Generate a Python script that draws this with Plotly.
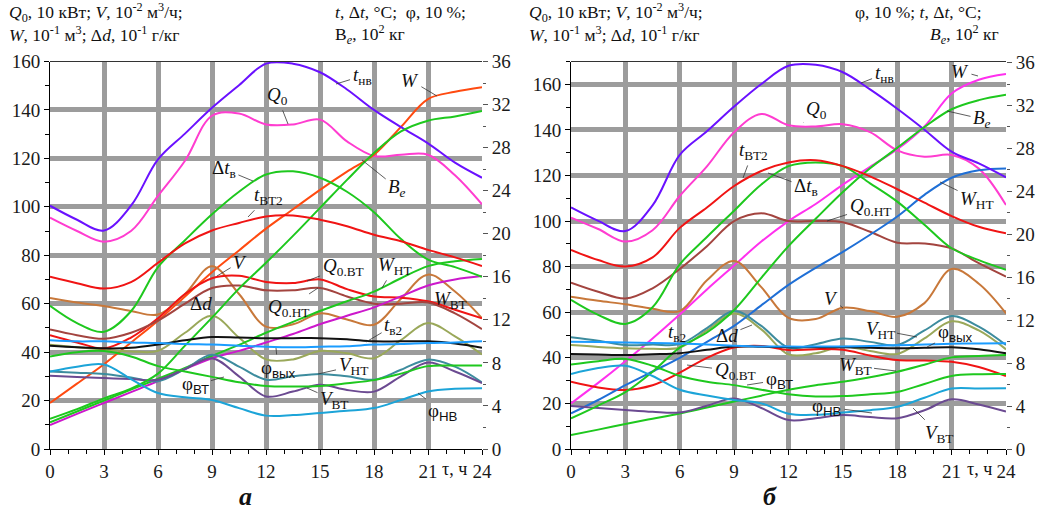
import plotly.graph_objects as go

W_PX, H_PX = 1046, 513
hours = [0, 1.5, 3, 4.5, 6, 7.5, 9, 10.5, 12, 13.5, 15, 16.5, 18, 19.5, 21, 22.5, 24]
x_ticks = [0, 3, 6, 9, 12, 15, 18, 21, 24]
left_ticks = [0, 20, 40, 60, 80, 100, 120, 140, 160]
right_ticks = [0, 4, 8, 12, 16, 20, 24, 28, 32, 36]

# ---------- panel a ----------
a_t_nv = [22.6, 21.3, 20.3, 22.6, 26.9, 29.3, 31.7, 33.8, 35.8, 35.8, 35.0, 33.4, 31.5, 29.9, 28.4, 26.6, 25.2]
a_Q0 = [95.5, 90, 85.6, 90, 104.5, 119, 137.6, 138.5, 134, 134, 136, 127, 121, 121.5, 121.5, 113, 101]
a_W = [19, 27, 35, 44, 53, 63, 73, 82, 91, 99, 107, 114.5, 121.5, 133, 144.5, 147.5, 149.4]
a_Be = [2.8, 3.7, 4.7, 5.6, 7.0, 9.6, 12.2, 14.9, 17.3, 19.8, 22.4, 25.0, 27.5, 29.5, 30.5, 30.9, 31.4]
a_dt_v = [13.3, 11.7, 10.9, 12.8, 16.9, 19.4, 21.8, 23.9, 25.5, 25.8, 25.2, 23.9, 22.0, 19.5, 17.6, 16.9, 16.0]
a_t_vt2 = [16.0, 15.4, 14.9, 15.5, 17.3, 19.1, 20.3, 21.0, 21.6, 21.7, 21.3, 20.7, 19.9, 19.3, 18.5, 17.8, 17.0]
a_V = [62.4, 60.5, 59, 57, 55.5, 64, 75.5, 64, 50.5, 51.5, 56, 53.5, 51.3, 62, 72, 65, 54]
a_dd = [43, 42, 41, 40.3, 40.5, 48, 55, 46, 37, 37, 40.5, 39.5, 37.5, 45, 52, 46.5, 39]
a_Q0_vt = [47, 44, 41.5, 46, 54, 64, 70.5, 71.5, 69, 68.5, 70, 66, 63, 62.5, 61, 57.5, 54]
a_Q0_nt = [49.3, 47, 45.5, 48, 53, 60, 66.5, 67.5, 65.5, 65.5, 66.5, 63, 60, 60, 60.5, 56, 49.5]
a_W_nt = [11, 15.5, 20, 24.5, 29, 33.5, 38.5, 43, 48, 52.5, 57, 61, 65, 70.5, 75.5, 77.5, 78.5]
a_W_vt = [9.9, 14.5, 19, 23.5, 28, 33, 37.5, 40.5, 44, 47.5, 51.5, 55, 58.5, 63, 67.5, 70, 71.4]
a_t_v2 = [9.6, 9.45, 9.35, 9.4, 9.7, 10.1, 10.4, 10.35, 10.3, 10.3, 10.3, 10.2, 10.0, 10.0, 10.0, 9.8, 9.4]
a_phi_out = [10.1, 10.0, 10.0, 9.9, 9.85, 9.75, 9.7, 9.6, 9.5, 9.45, 9.5, 9.55, 9.7, 9.75, 9.85, 9.9, 10.0]
a_phi_vt = [8.6, 9.0, 9.1, 8.6, 7.7, 7.2, 6.7, 6.2, 5.85, 5.8, 5.85, 6.1, 6.4, 7.0, 7.7, 7.75, 7.75]
a_V_nt = [32, 31.5, 31, 29.5, 28, 33, 38.9, 34, 28.6, 30, 31, 30, 28.6, 32.7, 36.9, 34, 27.5]
a_V_vt = [30.2, 29.7, 29.3, 28.9, 28.6, 33, 37.5, 30, 21.7, 23.7, 26.5, 24.4, 23.7, 30, 35.7, 32, 27.2]
a_phi_nv = [7.2, 7.65, 7.85, 6.5, 5.2, 4.8, 4.55, 3.8, 3.1, 3.15, 3.35, 3.55, 3.8, 4.55, 5.35, 5.6, 5.65]

# ---------- panel b ----------
b_t_nv = [22.5, 21.25, 20.3, 22.7, 27.4, 29.6, 31.9, 34.0, 35.7, 35.8, 35.1, 33.5, 31.7, 29.75, 27.7, 26.6, 25.3]
b_Q0 = [101.5, 96.5, 91, 96, 111, 124, 139, 147, 142, 141.5, 142.5, 139, 131, 128.2, 129, 123, 107]
b_W = [20, 29, 38.5, 48.5, 59, 70, 80.5, 91, 100, 107.5, 116, 123.8, 131.5, 141.5, 156, 162, 164.5]
b_Be = [2.85, 4.05, 5.3, 7.2, 9.45, 10.85, 12.95, 15.95, 18.9, 21.45, 23.95, 26.15, 28.05, 30.0, 31.65, 32.5, 33.0]
b_dt_v = [13.9, 12.5, 11.65, 13.2, 17.2, 19.75, 22.2, 24.65, 26.35, 26.7, 26.35, 24.75, 23.05, 20.9, 18.7, 17.6, 16.7]
b_t_vt2 = [18.55, 17.6, 17.0, 17.85, 20.6, 22.5, 24.5, 25.9, 26.7, 26.9, 26.35, 25.4, 24.2, 22.95, 21.7, 20.7, 20.1]
b_Q0_nt = [73, 69, 66, 70.5, 79, 89, 100, 103.4, 100, 100, 99.5, 95.3, 90.5, 90.2, 88, 81.5, 75.6]
b_W_nt = [15.6, 21.5, 28, 34, 40, 47, 54, 63, 72, 79.5, 86.5, 94, 102, 111.5, 119, 122.3, 123.1]
b_V = [66.8, 65, 63.5, 61.5, 60.5, 74, 82.5, 71, 57.5, 57, 62, 60.5, 58, 64, 79, 72.5, 59.5]
b_dd = [45.6, 44.8, 44.2, 44, 44.5, 52, 59.5, 52.5, 41.5, 42, 45, 43, 41.7, 48.5, 56, 52, 43.7]
b_V_nt = [49, 47.5, 45.6, 45.8, 46, 53, 60.5, 54, 44.5, 46, 48.5, 47, 45.6, 52, 58.3, 53.7, 45.6]
b_phi_out = [10.0, 9.97, 9.92, 9.88, 9.82, 9.73, 9.63, 9.56, 9.54, 9.54, 9.56, 9.6, 9.67, 9.73, 9.8, 9.84, 9.86]
b_t_v2 = [8.86, 8.8, 8.75, 8.82, 8.92, 9.24, 9.54, 9.52, 9.48, 9.48, 9.48, 9.43, 9.39, 9.43, 9.48, 9.3, 8.92]
b_Q0_vt = [29.5, 27, 25.9, 28, 33.5, 40, 44.5, 45.2, 43.4, 43.8, 43.5, 41, 39, 38.8, 38.3, 36, 32]
b_W_vt = [6.1, 8.5, 11, 13.3, 15.6, 18.2, 20.8, 23.4, 26, 28, 29.5, 31.5, 33.9, 37, 40.2, 40.8, 41.2]
b_phi_vt = [7.86, 8.18, 8.39, 7.76, 6.8, 6.27, 5.95, 5.52, 5.1, 4.89, 4.93, 5.1, 5.31, 6.06, 6.8, 6.97, 6.99]
b_phi_nv = [6.99, 7.54, 7.76, 6.8, 5.52, 4.99, 4.57, 4.25, 3.29, 3.19, 3.4, 3.61, 3.93, 4.78, 5.63, 5.63, 5.65]
b_V_vt = [18.9, 18, 17.1, 16.3, 16, 19, 22.2, 18, 12.7, 13.5, 14.9, 14, 13.5, 17, 21.8, 19.5, 16.4]

# colours
VIOLET = '#6a11ff'; PINK = '#ff3dd0'; ORANGE = '#ff4a10'; GREEN = '#1ec81e'
RED = '#f01414'; BROWN_OR = '#c8783a'; OLIVE = '#9aa85a'; BROWN = '#a3443f'
MAGENTA = '#cc18cc'; BLACK = '#111111'; LBLUE = '#1a9cff'; TEAL = '#3d8c9e'
PURPLE = '#6b4a91'; CYAN = '#1ca4d8'; BMAG = '#ff30ee'; BLUE = '#1f6fd6'

fig = go.Figure()

def add(y, color, xa, ya, width=2.0):
    fig.add_trace(go.Scatter(x=hours, y=y, mode='lines',
                             line=dict(color=color, width=width, shape='spline', smoothing=1.0),
                             xaxis=xa, yaxis=ya, showlegend=False, hoverinfo='skip'))

for s, c in [(a_Q0, PINK), (a_W, ORANGE), (a_V, BROWN_OR), (a_dd, OLIVE), (a_Q0_vt, RED),
             (a_Q0_nt, BROWN), (a_W_nt, GREEN), (a_W_vt, MAGENTA), (a_V_nt, TEAL), (a_V_vt, PURPLE)]:
    add(s, c, 'x', 'y')
for s, c in [(a_t_nv, VIOLET), (a_Be, GREEN), (a_dt_v, GREEN), (a_t_vt2, RED), (a_t_v2, BLACK),
             (a_phi_out, LBLUE), (a_phi_vt, GREEN), (a_phi_nv, CYAN)]:
    add(s, c, 'x', 'y2')
for s, c in [(b_Q0, PINK), (b_W, BMAG), (b_V, BROWN_OR), (b_dd, OLIVE), (b_Q0_vt, RED),
             (b_Q0_nt, BROWN), (b_W_nt, BLUE), (b_W_vt, GREEN), (b_V_nt, TEAL), (b_V_vt, PURPLE)]:
    add(s, c, 'x2', 'y3')
for s, c in [(b_t_nv, VIOLET), (b_Be, GREEN), (b_dt_v, GREEN), (b_t_vt2, RED), (b_t_v2, BLACK),
             (b_phi_out, LBLUE), (b_phi_vt, GREEN), (b_phi_nv, CYAN)]:
    add(s, c, 'x2', 'y4')

FONT = 'Liberation Serif, Times New Roman, Times, serif'
TICKF = dict(family=FONT, size=19, color='#1a1a1a')
GRID = '#9c9c9c'
ydom = [(H_PX - 449) / H_PX, (H_PX - 61.5) / H_PX]

def xax(dom, anchor):
    return dict(domain=dom, anchor=anchor, range=[0, 24], tickvals=x_ticks, automargin=False,
                showgrid=True, gridcolor=GRID, gridwidth=5, zeroline=False,
                showline=True, linecolor='black', linewidth=1,
                ticks='outside', ticklen=5, tickcolor='black',
                minor=dict(dtick=1, ticks='outside', ticklen=4, tickcolor='black', showgrid=False),
                tickfont=TICKF, fixedrange=True)

def ylax(rng, anchor):
    return dict(domain=ydom, anchor=anchor, range=rng, tickvals=left_ticks, automargin=False,
                showgrid=True, gridcolor=GRID, gridwidth=5, zeroline=False,
                showline=True, linecolor='black', linewidth=1,
                ticks='outside', ticklen=5, tickcolor='black',
                minor=dict(dtick=10, ticks='outside', ticklen=4, tickcolor='black', showgrid=False),
                tickfont=TICKF, fixedrange=True)

def yrax(rng, over, anchor):
    return dict(overlaying=over, side='right', anchor=anchor, range=rng, tickvals=right_ticks,
                automargin=False, showgrid=False, zeroline=False, showline=False,
                ticks='outside', ticklen=5, tickcolor='#555',
                minor=dict(dtick=2, ticks='outside', ticklen=3, tickcolor='#555'),
                tickfont=TICKF, fixedrange=True)

fig.update_layout(
    width=W_PX, height=H_PX, autosize=False, margin=dict(l=0, r=0, t=0, b=0, pad=0, autoexpand=False),
    paper_bgcolor='white', plot_bgcolor='white', showlegend=False,
    xaxis=xax([50 / W_PX, 482 / W_PX], 'y'),
    yaxis=ylax([0, 160], 'x'),
    yaxis2=yrax([0, 36], 'y', 'x'),
    xaxis2=xax([571 / W_PX, 1006 / W_PX], 'y3'),
    yaxis3=ylax([0, 170], 'x2'),
    yaxis4=yrax([0, 36.1], 'y3', 'x2'),
)

for xr, yr in (('x domain', 'y domain'), ('x2 domain', 'y3 domain')):
    fig.add_shape(type='line', xref=xr, yref=yr, x0=0, x1=1, y0=1, y1=1,
                  line=dict(color='#333', width=1), layer='above')

def px(x):
    return x / W_PX

def py(y):
    return 1 - y / H_PX

anns = []

def label(text, cx, cy, tip=None, size=19):
    f = dict(family=FONT, size=size, color='#111')
    if tip is None:
        anns.append(dict(text=text, x=px(cx), y=py(cy), xref='paper', yref='paper',
                         showarrow=False, font=f, xanchor='center', yanchor='middle'))
    else:
        anns.append(dict(text=text, x=px(tip[0]), y=py(tip[1]), xref='paper', yref='paper',
                         showarrow=True, arrowhead=0, arrowwidth=0.8, arrowcolor='#333',
                         ax=cx - tip[0], ay=cy - tip[1], standoff=0, startstandoff=1,
                         font=f, xanchor='center', yanchor='middle'))

SANS = "<span style='font-family:Liberation Sans, Arial, sans-serif'>"
def sub_s(t):
    return "<sub>" + SANS + t + "</span></sub>"

# panel a labels
label("<i>t</i><sub>нв</sub>", 362, 76, (336, 84))
label("<i>W</i>", 410, 80, (437, 96))
label("<i>Q</i><sub>0</sub>", 277, 96, (288, 124))
label("<i>B<sub>e</sub></i>", 397, 188, (362, 160))
label("Δ<i>t</i><sub>в</sub>", 224, 169, (253, 181))
label("<i>t</i><sub>ВТ2</sub>", 268, 196, (248, 217))
label("<i>V</i>", 240, 262, (217, 276))
label("Δ<i>d</i>", 201, 303)
label("<i>Q</i><sub>0.ВТ</sub>", 343, 267, (307, 281))
label("<i>W</i><sub>НТ</sub>", 395, 266, (382, 288))
label("<i>Q</i><sub>0.НТ</sub>", 288, 308, (318, 288))
label("<i>W</i><sub>ВТ</sub>", 450, 300)
label("<i>t</i><sub>в2</sub>", 393, 326, (366, 342))
label("φ" + sub_s("вых"), 278, 369, (276, 348))
label("<i>V</i><sub>НТ</sub>", 353, 366, (318, 374))
label("<i>V</i><sub>ВТ</sub>", 334, 400, (307, 388))
label("φ" + sub_s("НВ"), 443, 412, (418, 393))
label("φ" + sub_s("ВТ"), 195, 385, (224, 377))

# panel b labels
label("<i>t</i><sub>нв</sub>", 884, 74, (861, 83))
label("<i>W</i>", 960, 71, (978, 76))
label("<i>Q</i><sub>0</sub>", 816, 110, (803, 123))
label("<i>B<sub>e</sub></i>", 982, 119, (947, 111))
label("<i>t</i><sub>ВТ2</sub>", 753, 151, (743, 178))
label("Δ<i>t</i><sub>в</sub>", 806, 187, (768, 173))
label("<i>W</i><sub>НТ</sub>", 977, 200, (940, 182))
label("<i>Q</i><sub>0.НТ</sub>", 870, 207, (827, 221))
label("<i>V</i>", 831, 298, (843, 308))
label("<i>V</i><sub>НТ</sub>", 880, 330, (917, 337))
label("φ" + sub_s("вых"), 955, 333, (927, 347))
label("<i>W</i><sub>ВТ</sub>", 855, 366, (896, 371))
label("φ" + sub_s("НВ"), 827, 407, (872, 413))
label("<i>V</i><sub>ВТ</sub>", 939, 434, (913, 408))
label("<i>t</i><sub>в2</sub>", 677, 333)
label("Δ<i>d</i>", 727, 335, (752, 325))
label("<i>Q</i><sub>0.ВТ</sub>", 735, 371, (687, 365))
label("φ" + sub_s("ВТ"), 779, 380, (747, 385))

# headers
HF = dict(family=FONT, size=17.5, color='#111')
def head(text, x, y, anchor='left'):
    anns.append(dict(text=text, x=px(x), y=py(y), xref='paper', yref='paper', showarrow=False,
                     font=HF, xanchor=anchor, yanchor='middle'))

l1 = "<i>Q</i><sub>0</sub>, 10 кВт; <i>V</i>, 10<sup>-2</sup> м<sup>3</sup>/ч;"
l2 = "<i>W</i>, 10<sup>-1</sup> м<sup>3</sup>; Δ<i>d</i>, 10<sup>-1</sup> г/кг"
head(l1, 7, 12); head(l2, 7, 34)
head("<i>t</i>, Δ<i>t</i>, °C;  φ, 10 %;", 333, 12)
head("B<sub><i>e</i></sub>, 10<sup>2</sup> кг", 333, 34)
head(l1, 527, 12); head(l2, 527, 34)
head("φ, 10 %; <i>t</i>, Δ<i>t</i>, °C;", 853, 12)
head("<i>B<sub>e</sub></i>, 10<sup>2</sup> кг", 1001, 34, 'right')

for xx in (454, 979):
    anns.append(dict(text="τ, ч", x=px(xx), y=py(469), xref='paper', yref='paper', showarrow=False,
                     font=dict(family=FONT, size=18, color='#111'), xanchor='center', yanchor='middle'))
for t, xx in (("а", 245), ("б", 770)):
    anns.append(dict(text="<b><i>" + t + "</i></b>", x=px(xx), y=py(496), xref='paper', yref='paper',
                     showarrow=False, font=dict(family=FONT, size=26, color='#111'),
                     xanchor='center', yanchor='middle'))

fig.update_layout(annotations=anns)
fig.write_html("out.html", config={'displayModeBar': False, 'responsive': False},
               post_script="document.body.style.margin='0';document.body.style.overflow='hidden';")
